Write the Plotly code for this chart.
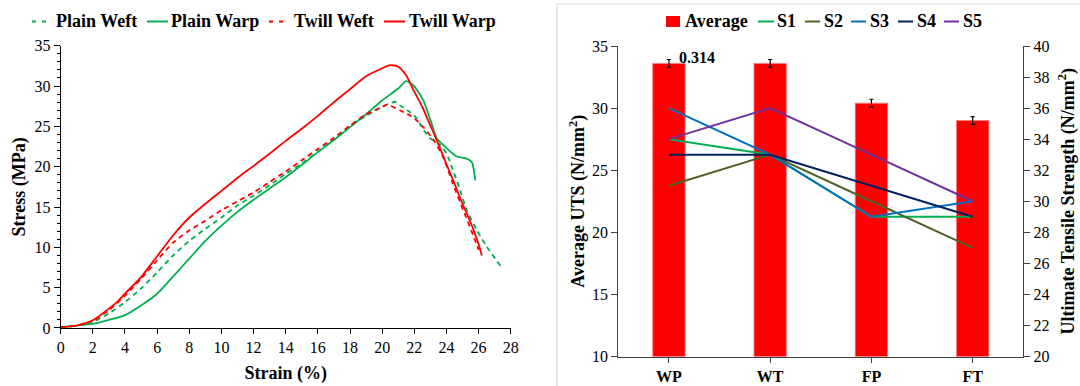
import plotly.graph_objects as go

# ---------------- Left chart data: stress-strain curves ----------------
tw_strain = [0, 1, 2, 3, 3.5, 4, 5, 6, 7, 8, 9, 10, 11, 12, 13, 14, 15, 16, 17, 18, 19, 20,
             20.5, 21, 21.5, 22, 22.5, 23, 23.5, 24, 24.5, 25, 25.5, 26, 26.2]
tw_stress = [0.1, 0.3, 0.95, 2.4, 3.2, 4.25, 6.3, 8.9, 11.5, 13.7, 15.4, 17.0, 18.6, 20.1, 21.6,
             23.2, 24.7, 26.3, 28.0, 29.6, 31.2, 32.2, 32.6, 32.4, 31.3, 29.3, 27.4, 25.1, 22.8,
             20.3, 17.9, 15.4, 13.1, 10.4, 9.0]

tf_strain = [0, 1, 2, 3, 4, 5, 6, 7, 8, 9, 10, 11, 12, 13, 14, 15, 16, 17, 18, 19, 20, 20.3,
             21.1, 21.7, 22.0, 22.56, 23.2, 23.8, 24.4, 25.05, 25.7, 26.0]
tf_stress = [0.1, 0.3, 0.9, 2.2, 4.0, 6.1, 8.4, 10.6, 12.1, 13.3, 14.6, 15.7, 16.8, 18.1, 19.4,
             20.8, 22.2, 23.6, 25.1, 26.5, 27.4, 27.7, 27.0, 26.4, 26.0, 24.9, 23.3, 21.2, 17.9,
             14.6, 11.3, 9.7]

pwarp_strain = [0, 1, 2, 3, 4, 5, 6, 7, 8, 9, 10, 11, 12, 13, 14, 15, 16, 17, 18, 19, 20, 21,
                21.5, 21.94, 22.56, 23.0, 23.4, 23.8, 24.6, 25.26, 25.6, 25.7, 25.8]
pwarp_stress = [0.1, 0.3, 0.5, 1.0, 1.6, 2.8, 4.25, 6.4, 8.6, 10.8, 12.7, 14.4, 15.9, 17.3, 18.7,
                20.2, 21.8, 23.3, 24.9, 26.5, 28.2, 29.7, 30.6, 30.1, 28.25, 25.8, 23.5, 22.7,
                21.3, 21.0, 20.5, 19.6, 18.3]

pweft_strain = [0, 1, 2, 3, 4, 5, 6, 7, 8, 9, 10, 11, 12, 13, 14, 15, 16, 17, 18, 19, 20, 20.8,
                21.1, 21.7, 22.15, 22.56, 23.0, 23.6, 24.0, 24.4, 24.85, 25.26, 25.9, 26.5, 27.44]
pweft_stress = [0.1, 0.3, 0.75, 1.8, 3.2, 4.9, 6.9, 9.0, 10.8, 12.3, 13.7, 15.2, 16.4, 17.7, 19.1,
                20.4, 21.9, 23.4, 25.0, 26.3, 27.4, 28.05, 27.6, 26.8, 26.0, 24.6, 23.5, 22.7,
                21.65, 19.6, 17.1, 14.6, 12.1, 10.1, 7.5]

# ---------------- Right chart data: UTS ----------------
categories = ["WP", "WT", "FP", "FT"]
average_uts = [33.6, 33.6, 30.4, 29.0]
average_err = [0.314, 0.314, 0.314, 0.314]
s1 = [34, 33, 29, 29]
s2 = [31, 33, 30, 27]
s3 = [36, 33, 29, 30]
s4 = [33, 33, 31, 29]
s5 = [34, 36, 33, 30]
err_label = "0.314"

FONT = "'Liberation Serif', 'Times New Roman', Times, serif"
GREEN = "#00B050"
RED = "#FF0000"
W, H = 1080, 386

fig = go.Figure()

left_series = [
    ("Plain Weft", pweft_strain, pweft_stress, GREEN, "5px,4px"),
    ("Plain Warp", pwarp_strain, pwarp_stress, GREEN, "solid"),
    ("Twill Weft", tf_strain, tf_stress, RED, "5px,4px"),
    ("Twill Warp", tw_strain, tw_stress, RED, "solid"),
]
for name, xs, ys, col, dash in left_series:
    fig.add_trace(go.Scatter(
        x=xs, y=ys, name=name, mode="lines", showlegend=False,
        line=dict(color=col, width=1.8, dash=dash, shape="spline", smoothing=0.6),
        xaxis="x", yaxis="y"))

fig.add_trace(go.Bar(
    x=categories, y=average_uts, name="Average", width=0.32, showlegend=False,
    marker=dict(color=RED, line=dict(color="#FF8080", width=0.8)),
    error_y=dict(type="data", array=average_err, color="black", thickness=1.2, width=2),
    xaxis="x2", yaxis="y2"))

right_series = [("S1", s1, "#00B050"), ("S2", s2, "#4F6228"), ("S3", s3, "#0070C0"),
                ("S4", s4, "#002060"), ("S5", s5, "#7030A0")]
for name, vals, col in right_series:
    fig.add_trace(go.Scatter(
        x=categories, y=vals, name=name, mode="lines", showlegend=False,
        line=dict(color=col, width=2),
        xaxis="x2", yaxis="y3"))

# ---------------- Custom legends (compact, Excel-like) ----------------
legend_font = dict(family=FONT, size=18, color="black", weight="bold")
shapes = [dict(type="rect", xref="paper", yref="paper",
               x0=557 / W, x1=1.01, y0=-0.01, y1=(H - 4) / H,
               line=dict(color="#D9D9D9", width=1.2), layer="below")]
annotations = []
LEG_Y = 1 - 21.5 / H

left_slots = [(32, 47, 54), (147, 168, 169), (269, 284, 292), (384, 405, 407)]
for (name, _, _, col, dash), (sx0, sx1, tx) in zip(left_series, left_slots):
    shapes.append(dict(type="line", xref="paper", yref="paper",
                       x0=sx0 / W, x1=sx1 / W, y0=LEG_Y, y1=LEG_Y,
                       line=dict(color=col, width=2, dash="4px,6px" if dash != "solid" else "solid")))
    annotations.append(dict(text=name, x=tx / W, y=LEG_Y, xref="paper", yref="paper",
                            xanchor="left", yanchor="middle", showarrow=False, font=legend_font))

# Average (bar) legend swatch
shapes.append(dict(type="rect", xref="paper", yref="paper",
                   x0=666 / W, x1=680 / W, y0=1 - 27 / H, y1=1 - 16 / H,
                   fillcolor=RED, line=dict(width=0)))
annotations.append(dict(text="Average", x=683 / W, y=LEG_Y, xref="paper", yref="paper",
                        xanchor="left", yanchor="middle", showarrow=False, font=legend_font))
right_slots = [(758, 774, 775), (805, 820, 822), (851, 866, 868), (898, 913, 915), (944, 959, 961)]
for (name, _, col), (sx0, sx1, tx) in zip(right_series, right_slots):
    shapes.append(dict(type="line", xref="paper", yref="paper",
                       x0=sx0 / W, x1=sx1 / W, y0=LEG_Y, y1=LEG_Y,
                       line=dict(color=col, width=2)))
    annotations.append(dict(text=name, x=tx / W, y=LEG_Y, xref="paper", yref="paper",
                            xanchor="left", yanchor="middle", showarrow=False, font=legend_font))

annotations.append(dict(text=err_label, x=0.08, y=34.1, xref="x2", yref="y2",
                        xanchor="left", yanchor="middle", showarrow=False,
                        font=dict(family=FONT, size=16, color="black", weight="bold")))

tick_font = dict(family=FONT, size=16, color="black")
title_font = dict(family=FONT, size=18, color="black", weight="bold")

fig.update_layout(
    width=W, height=H,
    margin=dict(l=0, r=0, t=0, b=0, autoexpand=False),
    paper_bgcolor="white", plot_bgcolor="white",
    font=dict(family=FONT),
    showlegend=False,
    barmode="overlay",
    xaxis=dict(domain=[0.0562, 0.4729], range=[0, 28], dtick=2, tick0=0,
               ticks="outside", ticklen=5, tickcolor="black",
               showline=True, linecolor="black", linewidth=1.2,
               showgrid=False, zeroline=False, tickfont=tick_font, automargin=False,
               title=dict(text="Strain (%)", font=title_font, standoff=11),
               anchor="y"),
    yaxis=dict(domain=[0.1503, 0.8816], range=[0, 35], dtick=5, tick0=0,
               ticks="outside", ticklen=6, tickcolor="black",
               minor=dict(dtick=1, ticks="outside", ticklen=3, tickcolor="black"),
               showline=True, linecolor="black", linewidth=1.2,
               showgrid=False, zeroline=False, tickfont=tick_font, automargin=False,
               title=dict(text="Stress (MPa)", font=title_font, standoff=4),
               anchor="x"),
    xaxis2=dict(domain=[0.5725, 0.9475], range=[-0.5, 3.5], type="category",
                ticks="outside", ticklen=5, tickcolor="#404040",
                showline=True, linecolor="#404040", linewidth=1.2,
                showgrid=False, zeroline=False, automargin=False,
                tickfont=dict(family=FONT, size=16, color="black", weight="bold"),
                anchor="y2"),
    yaxis2=dict(domain=[0.0764, 0.8808], range=[10, 35], dtick=5, tick0=10,
                ticks="outside", ticklen=6, tickcolor="#404040",
                showline=True, linecolor="#404040", linewidth=1.2,
                showgrid=False, zeroline=False, tickfont=tick_font, automargin=False,
                title=dict(text="Average UTS (N/mm<sup>2</sup>)", font=title_font, standoff=2),
                anchor="x2"),
    yaxis3=dict(range=[20, 40], dtick=2, tick0=20, overlaying="y2", side="right",
                ticks="outside", ticklen=6, tickcolor="#404040",
                showline=True, linecolor="#404040", linewidth=1.2,
                showgrid=False, zeroline=False, tickfont=tick_font, automargin=False,
                title=dict(text="Ultimate Tensile Strength (N/mm<sup>2</sup>)", font=title_font, standoff=12),
                anchor="x2"),
    shapes=shapes,
    annotations=annotations,
)

fig.write_html("out.html")
